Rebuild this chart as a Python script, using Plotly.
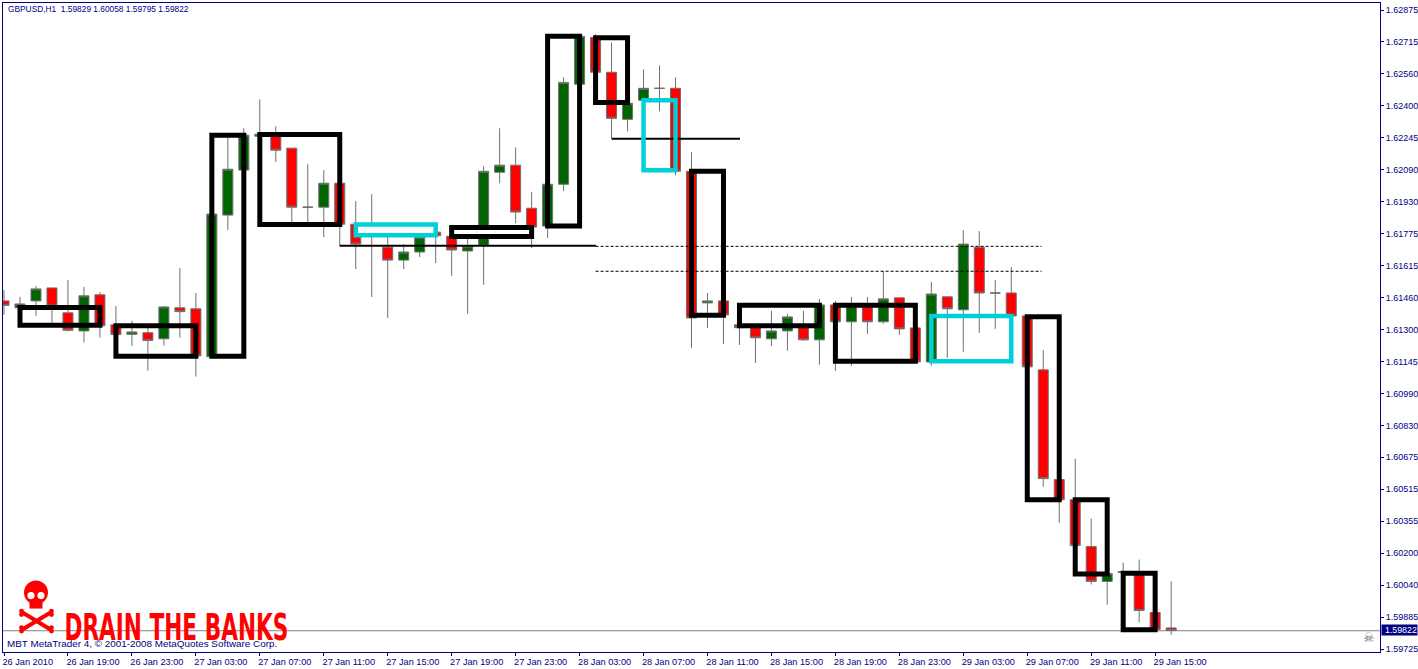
import plotly.graph_objects as go

bars = list(range(74))
opens = [1.61441,1.61407,1.61441,1.61505,1.61382,1.61293,1.61471,1.61323,1.61276,1.61284,1.61254,1.61407,1.61402,
 1.61166,1.61864,1.62086,1.62253,1.62253,1.62194,1.61903,1.61903,1.62021,1.61819,1.61800,1.61706,1.61642,1.61682,
 1.61780,1.61760,1.61687,1.61716,1.62075,1.62110,1.61898,1.61810,1.62016,1.62509,1.62740,1.62568,1.62336,1.62430,
 1.62489,1.62489,1.62080,1.61431,1.61441,1.61323,1.61318,1.61254,1.61293,1.61318,1.61249,1.61421,1.61338,1.61421,
 1.61338,1.61456,1.61308,1.61140,1.61461,1.61397,1.61706,1.61480,1.61480,1.61367,1.61101,1.60560,1.60461,1.60230,
 1.60058,1.60102,1.60097,1.59905,1.59829]
highs = [1.61495,1.61461,1.61515,1.61505,1.61544,1.61510,1.61485,1.61416,1.61343,1.61308,1.61416,1.61603,1.61480,
 1.61879,1.62263,1.62292,1.62435,1.62302,1.62194,1.62115,1.62086,1.62021,1.61933,1.61967,1.61805,1.61721,1.61780,
 1.61780,1.61790,1.61790,1.62105,1.62292,1.62198,1.61977,1.62021,1.62543,1.62745,1.62755,1.62715,1.62415,1.62582,
 1.62602,1.62543,1.62174,1.61480,1.61441,1.61323,1.61318,1.61392,1.61377,1.61392,1.61451,1.61441,1.61461,1.61461,
 1.61588,1.61456,1.61308,1.61534,1.61461,1.61790,1.61785,1.61544,1.61608,1.61367,1.61199,1.60560,1.60663,1.60368,
 1.60097,1.60151,1.60166,1.59905,1.60058]
lows = [1.61372,1.61397,1.61367,1.61333,1.61290,1.61236,1.61260,1.61273,1.61219,1.61097,1.61221,1.61260,1.61068,
 1.61165,1.61790,1.62086,1.62248,1.62126,1.61824,1.61824,1.61755,1.61711,1.61598,1.61460,1.61357,1.61598,1.61657,
 1.61628,1.61564,1.61377,1.61520,1.62021,1.61824,1.61701,1.61751,1.61982,1.62509,1.62568,1.62243,1.62277,1.62391,
 1.62376,1.62061,1.61209,1.61308,1.61229,1.61224,1.61135,1.61219,1.61195,1.61244,1.61126,1.61096,1.61121,1.61278,
 1.61328,1.61273,1.61140,1.61121,1.61160,1.61190,1.61283,1.61303,1.61367,1.61116,1.60525,1.60348,1.60235,1.60043,
 1.59944,1.60097,1.59856,1.59816,1.59795]
closes = [1.61419,1.61426,1.61500,1.61416,1.61296,1.61466,1.61318,1.61275,1.61288,1.61246,1.61411,1.61388,1.61170,
 1.61869,1.62090,1.62258,1.62263,1.62184,1.61903,1.61903,1.62021,1.61819,1.61721,1.61765,1.61642,1.61682,1.61755,
 1.61762,1.61692,1.61711,1.62080,1.62110,1.61879,1.61805,1.62016,1.62518,1.62745,1.62568,1.62341,1.62415,1.62489,
 1.62489,1.62080,1.61357,1.61441,1.61372,1.61309,1.61259,1.61293,1.61362,1.61249,1.61421,1.61338,1.61421,1.61338,
 1.61451,1.61303,1.61140,1.61475,1.61402,1.61721,1.61480,1.61480,1.61367,1.61116,1.60565,1.60461,1.60235,1.60058,
 1.60097,1.60107,1.59915,1.59821,1.59816]

x_tick_bars = list(range(0, 73, 4))
x_tick_labels = ["26 Jan 2010\u00a0","26 Jan 19:00","26 Jan 23:00","27 Jan 03:00","27 Jan 07:00","27 Jan 11:00","27 Jan 15:00",
 "27 Jan 19:00","27 Jan 23:00","28 Jan 03:00","28 Jan 07:00","28 Jan 11:00","28 Jan 15:00","28 Jan 19:00",
 "28 Jan 23:00","29 Jan 03:00","29 Jan 07:00","29 Jan 11:00","29 Jan 15:00"]
y_tick_labels = ["1.62875","1.62715","1.62560","1.62400","1.62245","1.62090","1.61930","1.61775","1.61615","1.61460",
 "1.61300","1.61145","1.60990","1.60830","1.60675","1.60515","1.60355","1.60200","1.60040","1.59885","1.59725"]
y_tick_values = [1.62875 - 0.001575 * k for k in range(len(y_tick_labels))]

# hand-drawn boxes: first bar, last bar, upper price, lower price
box_first = [1,7,13,16,28,34,37,43,46,52,64,67,70]
box_last = [6,12,15,21,33,36,39,45,51,57,66,69,72]
box_top = [1.61409,1.61319,1.62258,1.62261,1.61803,1.62745,1.62738,1.62080,1.61419,1.61419,1.61363,1.60461,1.60098]
box_bottom = [1.61321,1.61168,1.61168,1.61818,1.61759,1.61810,1.62419,1.61370,1.61319,1.61144,1.60461,1.60095,1.59820]
box_blanked = [28]
cyan_first = [22,40,58]
cyan_last = [27,42,63]
cyan_top = [1.61818,1.62430,1.61367]
cyan_bottom = [1.61764,1.62085,1.61144]
cyan_blanked = [22]

solid_first = [21,38]
solid_last = [37.03,46.03]
solid_price = [1.61713,1.62240]
dash_first = 37
dash_last = 64.9
dash_price = [1.61710,1.61587]
last_price_line = 1.59815

NAVY = "#000080"
RED = "#ff0000"
FONT = "Liberation Sans"
W, H = 1418, 669
L, R, T, B = 2.5, 1380.5, 2.5, 652.5
def px(v): return (v - L) / (R - L)
def py(v): return (B - v) / (B - T)

fig = go.Figure(go.Candlestick(
    x=bars, open=opens, high=highs, low=lows, close=closes,
    whiskerwidth=0,
    increasing=dict(fillcolor="#006400", line=dict(color="#707070", width=1)),
    decreasing=dict(fillcolor=RED, line=dict(color="#707070", width=1)),
    showlegend=False))

shapes = [dict(type="line", x0=-1, x1=87, y0=last_price_line, y1=last_price_line, xref="x", yref="y",
               line=dict(color="#808080", width=1), layer="below")]
for p in dash_price:
    shapes.append(dict(type="line", x0=dash_first, x1=dash_last, y0=p, y1=p, xref="x", yref="y",
                       line=dict(color="black", width=1, dash="3px,2px")))
for a, b, p in zip(solid_first, solid_last, solid_price):
    shapes.append(dict(type="line", x0=a, x1=b, y0=p, y1=p, xref="x", yref="y",
                       line=dict(color="black", width=2)))
for a, b, t, u in zip(cyan_first, cyan_last, cyan_top, cyan_bottom):
    shapes.append(dict(type="rect", x0=a, x1=b, y0=u, y1=t, xref="x", yref="y",
                       fillcolor="white" if a in cyan_blanked else "rgba(0,0,0,0)",
                       line=dict(color="#00d0d8", width=4.5)))
for a, b, t, u in zip(box_first, box_last, box_top, box_bottom):
    shapes.append(dict(type="rect", x0=a, x1=b, y0=u, y1=t, xref="x", yref="y",
                       fillcolor="white" if a in box_blanked else "rgba(0,0,0,0)",
                       line=dict(color="black", width=5)))

# skull logo
def circle(cx, cy, r, color):
    return dict(type="circle", xref="paper", yref="paper", x0=px(cx-r), x1=px(cx+r),
                y0=py(cy+r), y1=py(cy-r), fillcolor=color, line=dict(width=0))
def bone(x0, y0, x1, y1):
    return dict(type="line", xref="paper", yref="paper", x0=px(x0), x1=px(x1), y0=py(y0), y1=py(y1),
                line=dict(color=RED, width=4))
shapes += [circle(35.5, 593, 12, RED),
           dict(type="rect", xref="paper", yref="paper", x0=px(29), x1=px(42), y0=py(609), y1=py(598),
                fillcolor=RED, line=dict(width=0)),
           circle(30.5, 596, 3.6, "white"), circle(40.5, 596, 3.6, "white"),
           bone(22, 613, 50, 630), bone(50, 613, 22, 630)]
for cx, cy in [(21, 611.5), (21, 615), (51, 611.5), (51, 615), (21, 628), (21, 631.5), (51, 628), (51, 631.5)]:
    shapes.append(circle(cx, cy, 2.4, RED))
# price tag
shapes.append(dict(type="rect", xref="paper", yref="paper", x0=px(1382), x1=px(1418), y0=py(636), y1=py(625),
                   fillcolor=NAVY, line=dict(width=0)))

def note(text, x, y, size=9, color=NAVY, anchor="left", family=FONT):
    return dict(text=text, xref="paper", yref="paper", x=px(x), y=py(y), xanchor=anchor, yanchor="middle",
                showarrow=False, align="left", borderpad=0, font=dict(family=family, size=size, color=color))

annotations = [
    note("GBPUSD,H1  1.59829 1.60058 1.59795 1.59822", 7, 8.5, 8.35),
    note("MBT MetaTrader 4, © 2001-2008 MetaQuotes Software Corp.", 6, 644, 9.9),
    note("<b>DRAIN THE BANKS</b>", 176, 628, 37, RED, "center", "DejaVu Sans"),
    note("1.59822", 1385, 630.5, 8.8, "white"),
    note("☠", 1369, 638, 13, "#707070", "center", "DejaVu Sans"),
]

fig.update_layout(
    template="none",
    width=W, height=H, autosize=False,
    margin=dict(l=L, r=W-R, t=T, b=H-B, pad=0, autoexpand=False),
    paper_bgcolor="white", plot_bgcolor="white",
    boxgap=0.375, boxgroupgap=0, shapes=shapes, annotations=annotations,
    font=dict(family=FONT, size=9, color=NAVY),
    xaxis=dict(range=[-0.0625, 86.0625], rangeslider=dict(visible=False), showgrid=False, zeroline=False,
               automargin=False,
               tickmode="array", tickvals=x_tick_bars, ticktext=x_tick_labels, tickangle=0,
               ticks="outside", ticklen=3, tickwidth=1, tickcolor=NAVY,
               showline=True, mirror=True, linecolor=NAVY, linewidth=1,
               ticklabelshift=25, ticklabelstandoff=-2, ticklabeloverflow="allow",
               tickfont=dict(family=FONT, size=9.2, color=NAVY)),
    yaxis=dict(range=[1.597102, 1.629095], side="right", showgrid=False, zeroline=False,
               automargin=False,
               tickmode="array", tickvals=y_tick_values, ticktext=y_tick_labels,
               ticks="outside", ticklen=3, tickwidth=1, tickcolor=NAVY,
               showline=True, mirror=True, linecolor=NAVY, linewidth=1,
               tickfont=dict(family=FONT, size=9, color=NAVY)),
)
post = """
document.documentElement.style.margin='0';document.body.style.margin='0';document.body.style.padding='0';
function squeeze(){document.querySelectorAll('.annotation-text').forEach(function(t){
  if(t.textContent.indexOf('DRAIN')<0||t.getAttribute('data-sq'))return;
  var b=t.getBBox();var c=b.x+b.width/2;var s=224/b.width;
  t.setAttribute('transform','translate('+c+',0) scale('+s+',1) translate('+(-c)+',0)');t.setAttribute('data-sq','1');
});}
squeeze();setTimeout(squeeze,100);setTimeout(squeeze,500);
"""
fig.write_html("out.html", post_script=post, config=dict(displayModeBar=False))
